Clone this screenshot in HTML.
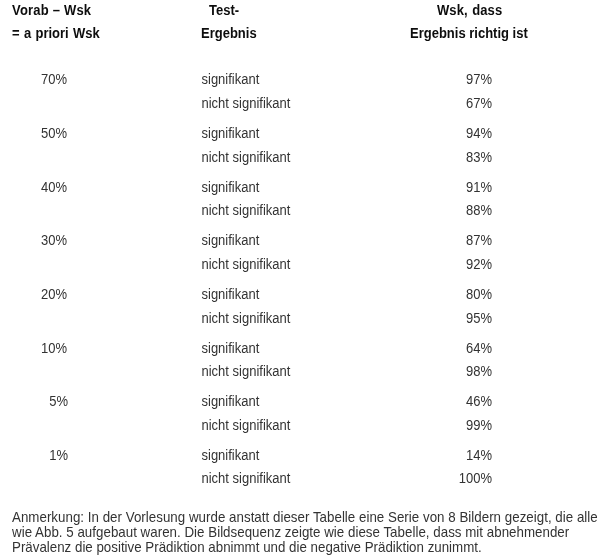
<!DOCTYPE html>
<html lang="de"><head><meta charset="utf-8"><title>Tabelle</title>
<style>
html,body{margin:0;padding:0;background:#fff;}
body{width:603px;height:559px;position:relative;overflow:hidden;color:#333;font-family:"Liberation Sans",Arial,sans-serif;}
.t{position:absolute;white-space:nowrap;font-size:13px;line-height:15px;transform:scaleY(1.075);transform-origin:0 3px;}
.r{transform-origin:100% 3px;}
.b{font-weight:bold;color:#0d0d0d;}
.f{font-size:13.333px;}
</style></head><body>
<div id="page" style="position:absolute;left:0;top:0;width:603px;height:559px;background:#fff;filter:grayscale(1)">
<div class="t b" style="left:12px;top:2px;letter-spacing:0.2px">Vorab – Wsk</div>
<div class="t b" style="left:12px;top:25px;word-spacing:0.7px">= a priori Wsk</div>
<div class="t b" style="left:209px;top:2px">Test-</div>
<div class="t b" style="left:201px;top:25px">Ergebnis</div>
<div class="t b" style="left:437px;top:2px;letter-spacing:0.1px;word-spacing:0.8px">Wsk, dass</div>
<div class="t b" style="left:410px;top:25px">Ergebnis richtig ist</div>
<div class="t r " style="right:536px;top:71px">70%</div>
<div class="t " style="left:201.5px;top:71px">signifikant</div>
<div class="t " style="left:201.5px;top:95px">nicht signifikant</div>
<div class="t r " style="right:111px;top:71px">97%</div>
<div class="t r " style="right:111px;top:95px">67%</div>
<div class="t r " style="right:536px;top:125px">50%</div>
<div class="t " style="left:201.5px;top:125px">signifikant</div>
<div class="t " style="left:201.5px;top:149px">nicht signifikant</div>
<div class="t r " style="right:111px;top:125px">94%</div>
<div class="t r " style="right:111px;top:149px">83%</div>
<div class="t r " style="right:536px;top:179px">40%</div>
<div class="t " style="left:201.5px;top:179px">signifikant</div>
<div class="t " style="left:201.5px;top:202px">nicht signifikant</div>
<div class="t r " style="right:111px;top:179px">91%</div>
<div class="t r " style="right:111px;top:202px">88%</div>
<div class="t r " style="right:536px;top:232px">30%</div>
<div class="t " style="left:201.5px;top:232px">signifikant</div>
<div class="t " style="left:201.5px;top:256px">nicht signifikant</div>
<div class="t r " style="right:111px;top:232px">87%</div>
<div class="t r " style="right:111px;top:256px">92%</div>
<div class="t r " style="right:536px;top:286px">20%</div>
<div class="t " style="left:201.5px;top:286px">signifikant</div>
<div class="t " style="left:201.5px;top:310px">nicht signifikant</div>
<div class="t r " style="right:111px;top:286px">80%</div>
<div class="t r " style="right:111px;top:310px">95%</div>
<div class="t r " style="right:536px;top:340px">10%</div>
<div class="t " style="left:201.5px;top:340px">signifikant</div>
<div class="t " style="left:201.5px;top:363px">nicht signifikant</div>
<div class="t r " style="right:111px;top:340px">64%</div>
<div class="t r " style="right:111px;top:363px">98%</div>
<div class="t r " style="right:535px;top:393px">5%</div>
<div class="t " style="left:201.5px;top:393px">signifikant</div>
<div class="t " style="left:201.5px;top:417px">nicht signifikant</div>
<div class="t r " style="right:111px;top:393px">46%</div>
<div class="t r " style="right:111px;top:417px">99%</div>
<div class="t r " style="right:535px;top:447px">1%</div>
<div class="t " style="left:201.5px;top:447px">signifikant</div>
<div class="t " style="left:201.5px;top:470px">nicht signifikant</div>
<div class="t r " style="right:111px;top:447px">14%</div>
<div class="t r " style="right:111px;top:470px">100%</div>
<div class="t f" style="left:12px;top:509px;letter-spacing:0.022px">Anmerkung: In der Vorlesung wurde anstatt dieser Tabelle eine Serie von 8 Bildern gezeigt, die alle</div>
<div class="t f" style="left:12px;top:524px;letter-spacing:0.02px">wie Abb. 5 aufgebaut waren. Die Bildsequenz zeigte wie diese Tabelle, dass mit abnehmender</div>
<div class="t f" style="left:12px;top:539px">Prävalenz die positive Prädiktion abnimmt und die negative Prädiktion zunimmt.</div>
</div>
</body></html>
